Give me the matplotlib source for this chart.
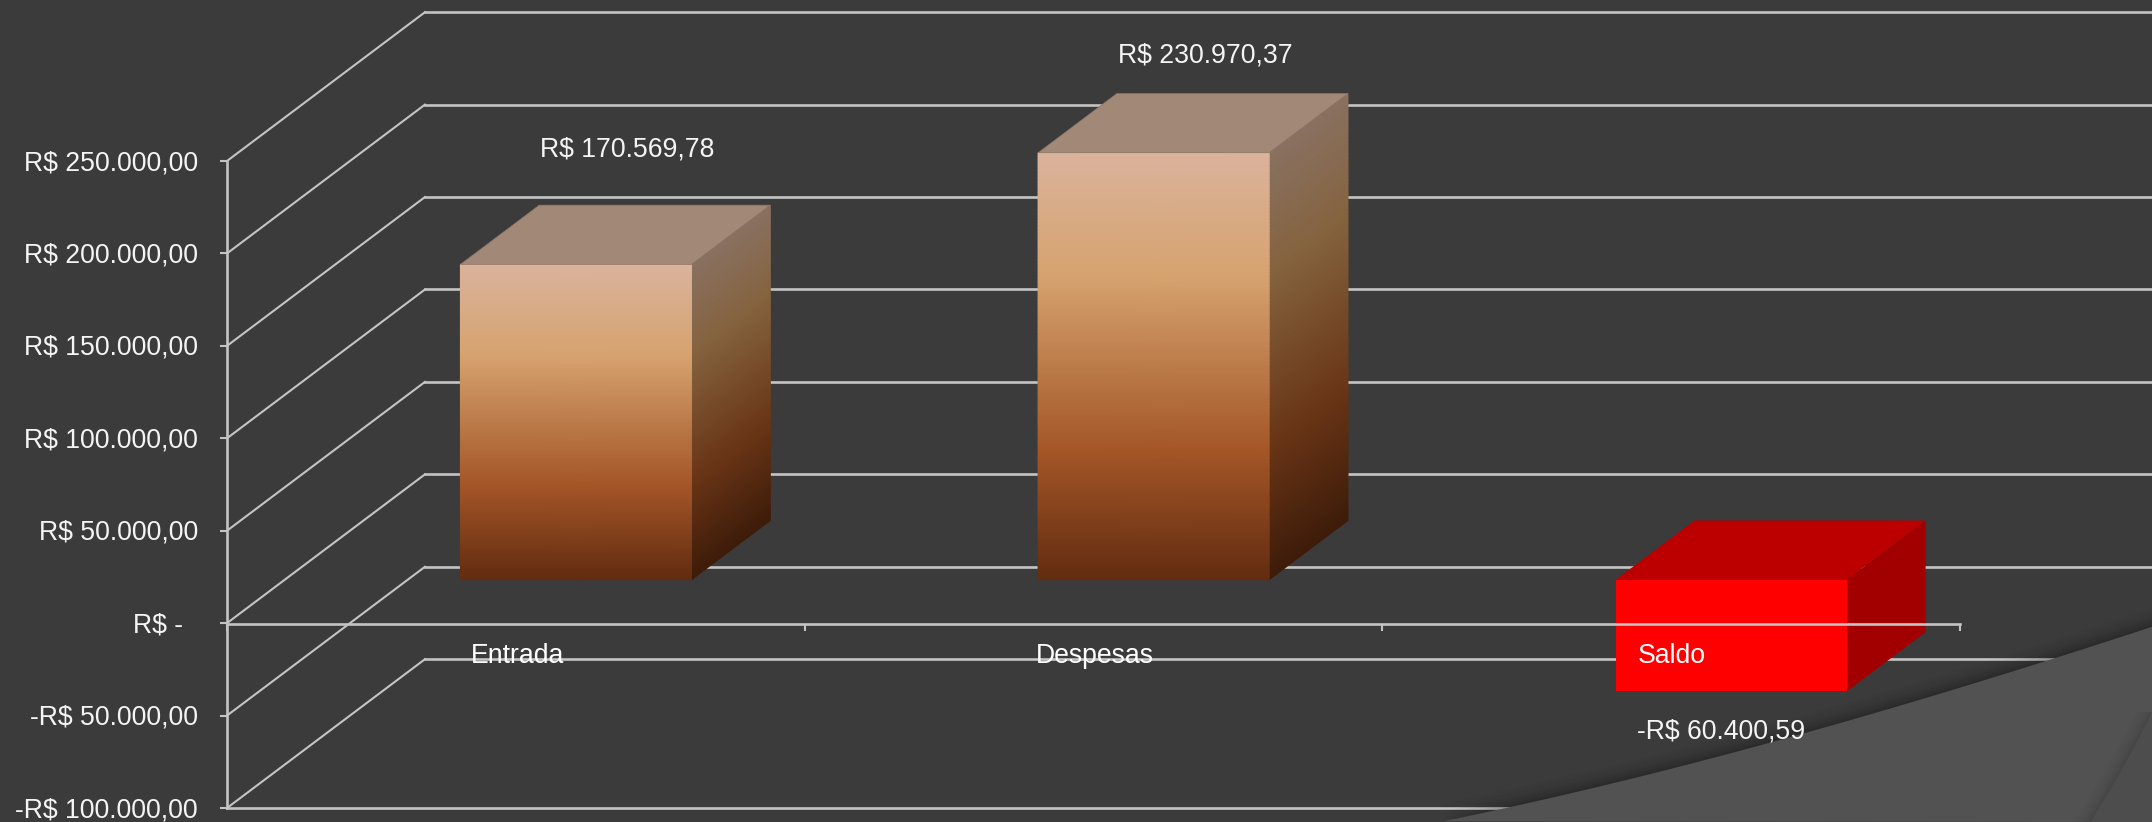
import numpy as np
import matplotlib
matplotlib.use("Agg")
import matplotlib.pyplot as plt
from matplotlib.colors import LinearSegmentedColormap
from matplotlib.patches import Polygon
from matplotlib.transforms import ScaledTranslation

categories = ["Entrada", "Despesas", "Saldo"]
values = [170569.78, 230970.37, -60400.59]
value_labels = ["R$ 170.569,78", "R$ 230.970,37", "-R$ 60.400,59"]
y_ticks = [-100000, -50000, 0, 50000, 100000, 150000, 200000, 250000]
y_tick_labels = ["-R$ 100.000,00", "-R$ 50.000,00", "R$ -  ", "R$ 50.000,00",
                 "R$ 100.000,00", "R$ 150.000,00", "R$ 200.000,00", "R$ 250.000,00"]

W, H = 2152, 822
BG = "#3b3b3b"
LINE = "#c4c4c4"
TXT = "#f4f4f4"
FS = 19.2
DX, DY = 0.3427, 80500.0      # oblique depth offset in data units
T0, T1 = 0.292, 0.690         # bar depth range
BAR_W = 0.4
BAR_C = 0.504

plt.rcParams["font.family"] = ["Liberation Sans", "DejaVu Sans"]
fig = plt.figure(figsize=(W / 100, H / 100), dpi=100, facecolor=BG)


def fx(x):
    return x / W


def fy(y):
    return 1 - y / H


def add_bg(xs, ys, **kw):
    fig.patches.append(Polygon(np.c_[fx(xs), fy(ys)], transform=fig.transFigure, ec="none", **kw))


# decorative background shapes (figure coordinates), smoothed outlines
ctrl = np.array([(1443, 822), (1510, 806), (1700, 762), (1952, 690), (2045, 661), (2152, 627)], float)
cx = np.linspace(1443, 2152, 200)
cy = np.polyval(np.polyfit(ctrl[:, 0], ctrl[:, 1], 3), cx)
for k, a in zip([18, 14, 10, 7, 4, 2], [0.02, 0.03, 0.04, 0.05, 0.06, 0.06]):
    add_bg(np.r_[cx, 2152, 2152], np.r_[cy - k, 822, 822], fc="#000000", alpha=a, zorder=0)
add_bg(np.r_[cx, 2152], np.r_[cy, 822], fc="#525252", zorder=0.1)

ectrl = np.array([(822, 2090), (769, 2122), (712, 2152)], float)
ey = np.linspace(712, 822, 60)
ex = np.polyval(np.polyfit(ectrl[:, 0], ectrl[:, 1], 2), ey)
for k, a in zip([16, 12, 8, 5, 2], [0.015, 0.02, 0.025, 0.03, 0.03]):
    add_bg(np.r_[ex - k, 2152, 2152], np.r_[ey, 822, 712], fc="#000000", alpha=a, zorder=0.2)
add_bg(np.r_[ex, 2152], np.r_[ey, 822], fc="#4d4d4d", zorder=0.3)

ax = fig.add_axes([227 / W, 1 - 808 / H, (1960 - 227) / W, (808 - 161) / H])
ax.patch.set_visible(False)
ax.set_xlim(0, 3)
ax.set_ylim(-100000, 250000)

front_cmap = LinearSegmentedColormap.from_list(
    "front", [(0, "#dab39c"), (0.286, "#d6a36f"), (0.70, "#a45627"), (1, "#622c10")])
side_cmap = LinearSegmentedColormap.from_list(
    "side", [(0, "#897161"), (0.286, "#85633f"), (0.70, "#683416"), (1, "#3e1c09")])


def proj(x, y, t):
    return x + DX * t, y + DY * t


# walls, gridlines
for v in y_ticks:
    x0, y0 = proj(0, v, 1)
    x1, y1 = proj(3, v, 1)
    ax.plot([0, x0], [v, y0], color=LINE, lw=1.5, clip_on=False, zorder=1)
    ax.plot([x0, x1], [y0, y1], color=LINE, lw=1.9, clip_on=False, zorder=1)
x0, y0 = proj(3, y_ticks[0], 1)
ax.plot([0, 3], [y_ticks[0]] * 2, color=LINE, lw=1.9, clip_on=False, zorder=1)
ax.plot([3, x0], [y_ticks[0], y0], color=LINE, lw=1.5, clip_on=False, zorder=1)

# bars
for i, v in enumerate(values):
    xl, xr = i + BAR_C - BAR_W / 2, i + BAR_C + BAR_W / 2
    lo, hi = (0, v) if v >= 0 else (v, 0)
    if v >= 0:
        g = np.linspace(0, 1, 120)
        ys = hi + (lo - hi) * g
        for is_front, cm, z in ((True, front_cmap, 3.2), (False, side_cmap, 3.1)):
            if is_front:
                fx0, fy0 = proj(xl, ys, T0)
                fx1, fy1 = proj(xr, ys, T0)
            else:
                fx0, fy0 = proj(xr, ys, T0)
                fx1, fy1 = proj(xr, ys, T1)
            ax.pcolormesh(np.c_[fx0, fx1], np.c_[fy0, fy1], np.c_[g, g], cmap=cm, vmin=0, vmax=1,
                          shading="gouraud", clip_on=False, zorder=z, rasterized=True)
        top_fc, edge_c = "#a28877", "#8d7565"
    else:
        ax.add_patch(Polygon([proj(xl, lo, T0), proj(xr, lo, T0), proj(xr, hi, T0), proj(xl, hi, T0)],
                             fc="#ff0000", ec="none", clip_on=False, zorder=3.2))
        ax.add_patch(Polygon([proj(xr, lo, T0), proj(xr, lo, T1), proj(xr, hi, T1), proj(xr, hi, T0)],
                             fc="#a20000", ec="none", clip_on=False, zorder=3.1))
        top_fc, edge_c = "#bc0000", "none"
    ax.add_patch(Polygon([proj(xl, hi, T0), proj(xr, hi, T0), proj(xr, hi, T1), proj(xl, hi, T1)],
                         fc=top_fc, ec=edge_c, lw=0.5, clip_on=False, zorder=3.3))

# axes
for s in ("top", "right"):
    ax.spines[s].set_visible(False)
ax.spines["bottom"].set_position(("data", -500))
for s in ("left", "bottom"):
    ax.spines[s].set_color(LINE)
    ax.spines[s].set_linewidth(1.9)
    ax.spines[s].set_zorder(5)
ax.set_yticks(y_ticks, y_tick_labels)
ax.set_xticks([0, 1, 2, 3], [""] * 4)
ax.tick_params(axis="y", length=5, width=1.5, color=LINE, labelcolor=TXT, labelsize=FS, pad=16)
ax.tick_params(axis="x", length=5, width=1.5, color=LINE)
up = ScaledTranslation(0, 1 / 100, fig.dpi_scale_trans)
for t in ax.get_yticklabels():
    t.set_zorder(6)
    t.set_transform(t.get_transform() + up)

# category labels and value labels
cat_pos = [(471, 656), (1036, 656), (1638, 656)]
val_pos = [(540, 150), (1118, 55), (1637, 731)]
for c, p in zip(categories, cat_pos):
    fig.text(fx(p[0]), fy(p[1]), c, color="white", fontsize=FS, ha="left", va="center", zorder=7)
for c, p in zip(value_labels, val_pos):
    fig.text(fx(p[0]), fy(p[1]), c, color=TXT, fontsize=FS, ha="left", va="center", zorder=7)

fig.savefig("out.png", dpi=100, facecolor=BG)
